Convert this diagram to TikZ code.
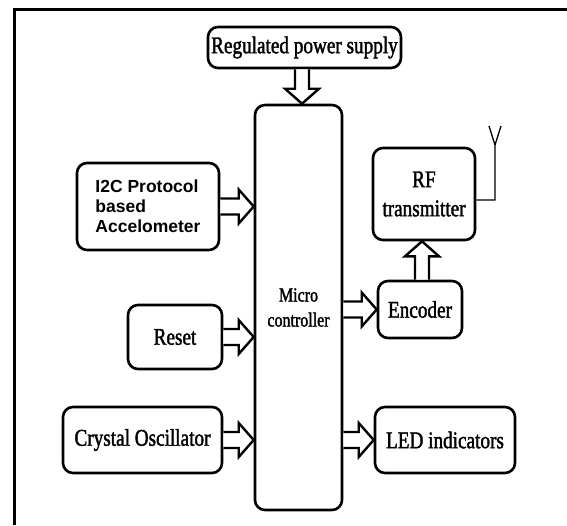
\documentclass[tikz,border=0pt]{standalone}
\usepackage{fontspec}
\setmainfont{Liberation Serif}
\newfontfamily\cserif[FakeStretch=0.8,FakeBold=1.6]{Liberation Serif}
\newfontfamily\asans{Liberation Sans Bold}
\usetikzlibrary{calc}
\tikzset{
 blk/.style={draw, line width=2.6pt, rounded corners=10pt, inner sep=0pt, fill=white, align=center, font=\cserif\fontsize{24}{29}\selectfont},
 fatarr/.style={draw, line width=2.4pt, fill=white, line join=miter},
 antline/.style={draw, line width=1.3pt},
 framel/.style={line width=3.5pt}
}
\newcommand\harr[2]{\path[fatarr] let \p1=(#1), \p2=(#2) in (\x1,\y1+8pt) -- (\x2-15pt,\y1+8pt) -- (\x2-15pt,\y1+17pt) -- (\x2,\y1) -- (\x2-15pt,\y1-17pt) -- (\x2-15pt,\y1-8pt) -- (\x1,\y1-8pt);}
\newcommand\darr[2]{\path[fatarr] let \p1=(#1), \p2=(#2) in (\x1+7pt,\y1) -- (\x1+7pt,\y2+15pt) -- (\x1+17pt,\y2+15pt) -- (\x1,\y2) -- (\x1-17pt,\y2+15pt) -- (\x1-7pt,\y2+15pt) -- (\x1-7pt,\y1);}
\newcommand\uarr[2]{\path[fatarr] let \p1=(#1), \p2=(#2) in (\x1+7pt,\y1) -- (\x1+7pt,\y2-15pt) -- (\x1+17pt,\y2-15pt) -- (\x1,\y2) -- (\x1-17pt,\y2-15pt) -- (\x1-7pt,\y2-15pt) -- (\x1-7pt,\y1);}
\begin{document}
\begin{tikzpicture}[x=1pt,y=-1pt]
\useasboundingbox (0,0) rectangle (567,525);
% frame
\draw[framel] (14.5,525) -- (14.5,9.5) -- (567,9.5);
% blocks
\node[blk, minimum width=193, minimum height=41] (power) at (304.5,47.5) {Regulated power supply};
\node[blk, minimum width=87, minimum height=405, font=\cserif\fontsize{20}{25}\selectfont] (mcu) at (298.5,307.5) {Micro\\controller};
\node[blk, minimum width=142, minimum height=87, align=left, font=\asans\fontsize{17.5}{20}\selectfont] (i2c) at (148,206.5) {I2C Protocol\\based\\Accelometer};
\node[blk, minimum width=94, minimum height=64] (reset) at (175,337) {Reset};
\node[blk, minimum width=159, minimum height=66] (crystal) at (142.5,440) {Crystal Oscillator};
\node[blk, minimum width=102, minimum height=92] (rf) at (424,194) {RF\\transmitter};
\node[blk, minimum width=84, minimum height=57] (enc) at (420,309.5) {Encoder};
\node[blk, minimum width=140, minimum height=66] (led) at (445,440) {LED indicators};
% arrows
\darr{$(power.south)+(-2.5,0)$}{$(mcu.north)+(1,0)$}
\harr{i2c.east}{mcu.west}
\harr{reset.east}{mcu.west}
\harr{crystal.east}{mcu.west}
\harr{mcu.east|-enc.west}{enc.west}
\harr{mcu.east|-led.west}{led.west}
\uarr{$(enc.north)+(2,0)$}{rf.south}
% antenna
\coordinate (antfoot) at (495,200);
\coordinate (antfork) at (495,145);
\coordinate (antl) at (489,126);
\coordinate (antr) at (501,126);
\draw[antline] ($(rf.east)+(0,6)$) -- (antfoot) -- (antfork) -- (antl);
\draw[antline] (antfork) -- (antr);
\end{tikzpicture}
\end{document}
